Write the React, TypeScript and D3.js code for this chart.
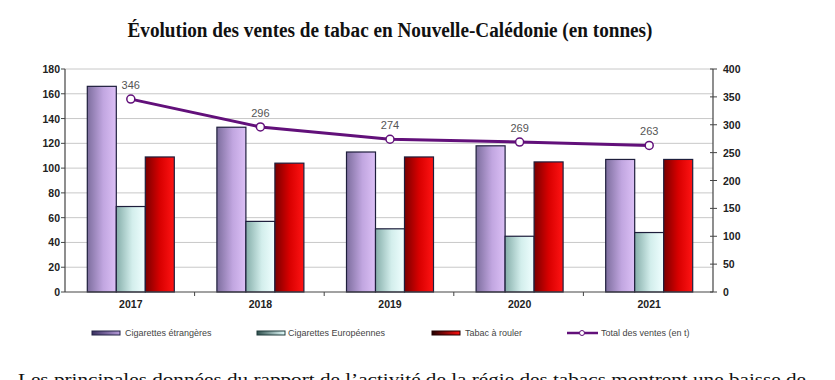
import React from "react";
import * as d3 from "d3";

const years = ["2017", "2018", "2019", "2020", "2021"];
const seriesNames = ["Cigarettes étrangères", "Cigarettes Européennes", "Tabac à rouler"];
const cigEtrangeres = [166, 133, 113, 118, 107];
const cigEuropeennes = [69, 57, 51, 45, 48];
const tabacRouler = [109, 104, 109, 105, 107];
const totalVentes = [346, 296, 274, 269, 263];
const totalName = "Total des ventes (en t)";
const leftTicks = [0, 20, 40, 60, 80, 100, 120, 140, 160, 180];
const rightTicks = [0, 50, 100, 150, 200, 250, 300, 350, 400];

const W = 835, H = 380;
const M = { left: 65, right: 713, top: 69, bottom: 292 };

export default function App() {
  const x0 = d3.scaleBand<string>().domain(years).range([M.left, M.right]).padding(0);
  const groupW = 87;
  const x1 = d3.scaleBand<string>().domain(seriesNames).range([0, groupW]).padding(0);
  const yL = d3.scaleLinear().domain([0, 180]).range([M.bottom, M.top]);
  const yR = d3.scaleLinear().domain([0, 400]).range([M.bottom, M.top]);
  const seriesVals = [cigEtrangeres, cigEuropeennes, tabacRouler];
  const grads = ["gPurple", "gGreen", "gRed"];
  const cx = (y: string) => (x0(y) as number) + x0.bandwidth() / 2 + 1;
  const line = d3.line<number>().x((_, i) => cx(years[i])).y((d) => yR(d));

  const legend = [
    { x: 92, tx: 125, grad: "gPurpleL", stroke: "#222244", label: seriesNames[0] },
    { x: 257, tx: 288, grad: "gGreenL", stroke: "#1f3b3a", label: seriesNames[1] },
    { x: 432, tx: 465, grad: "gRedL", stroke: "#220000", label: seriesNames[2] },
  ];

  return (
    <svg width={W} height={H} style={{ position: "absolute", left: 0, top: 0, background: "#fff" }}>
      <defs>
        <linearGradient id="gPurple" x1="0" x2="1" y1="0" y2="0">
          <stop offset="0" stopColor="#7d6e9e" />
          <stop offset="0.55" stopColor="#c1a6e0" />
          <stop offset="1" stopColor="#dcc0f6" />
        </linearGradient>
        <linearGradient id="gGreen" x1="0" x2="1" y1="0" y2="0">
          <stop offset="0" stopColor="#86aeaa" />
          <stop offset="0.55" stopColor="#d3eeec" />
          <stop offset="1" stopColor="#f0ffff" />
        </linearGradient>
        <linearGradient id="gRed" x1="0" x2="1" y1="0" y2="0">
          <stop offset="0" stopColor="#7a0000" />
          <stop offset="0.5" stopColor="#d80000" />
          <stop offset="1" stopColor="#ff1414" />
        </linearGradient>
        <linearGradient id="gPurpleL" x1="0" x2="1" y1="0" y2="0">
          <stop offset="0" stopColor="#3a3060" />
          <stop offset="1" stopColor="#b59ad8" />
        </linearGradient>
        <linearGradient id="gGreenL" x1="0" x2="1" y1="0" y2="0">
          <stop offset="0" stopColor="#2e4f4c" />
          <stop offset="1" stopColor="#e6ffff" />
        </linearGradient>
        <linearGradient id="gRedL" x1="0" x2="1" y1="0" y2="0">
          <stop offset="0" stopColor="#200000" />
          <stop offset="1" stopColor="#ff1010" />
        </linearGradient>
      </defs>

      <text x={390} y={37} textAnchor="middle" fontFamily="Liberation Serif, Times New Roman, serif"
        fontWeight="bold" fontSize={20} textLength={525} lengthAdjust="spacingAndGlyphs" fill="#111">
        Évolution des ventes de tabac en Nouvelle-Calédonie (en tonnes)
      </text>

      {/* gridlines */}
      {leftTicks.filter((t) => t > 0).map((t) => (
        <line key={t} x1={M.left} x2={M.right} y1={yL(t)} y2={yL(t)} stroke="#c8c8c8" strokeWidth={1} />
      ))}

      {/* bars */}
      {years.map((y, i) => (
        <g key={y} transform={`translate(${(x0(y) as number) + (x0.bandwidth() - groupW) / 2 + 1},0)`}>
          {seriesVals.map((vals, s) => (
            <rect key={s} x={x1(seriesNames[s]) as number} y={yL(vals[i])} width={x1.bandwidth()}
              height={M.bottom - yL(vals[i])} fill={`url(#${grads[s]})`} stroke="#1e1e3c" strokeWidth={1.2} />
          ))}
        </g>
      ))}

      {/* axes */}
      <line x1={M.left} x2={M.left} y1={M.top} y2={M.bottom} stroke="#444" strokeWidth={1.2} />
      <line x1={M.right} x2={M.right} y1={M.top} y2={M.bottom} stroke="#444" strokeWidth={1.2} />
      <line x1={M.left} x2={M.right} y1={M.bottom} y2={M.bottom} stroke="#444" strokeWidth={1.2} />
      {leftTicks.map((t) => (
        <g key={t}>
          <line x1={M.left - 4} x2={M.left} y1={yL(t)} y2={yL(t)} stroke="#444" />
          <text x={M.left - 5} y={yL(t) + 4} textAnchor="end" fontFamily="Liberation Sans, Arial, sans-serif"
            fontWeight="bold" fontSize={10.5} fill="#222">{t}</text>
        </g>
      ))}
      {rightTicks.map((t) => (
        <g key={t}>
          <line x1={M.right - 3} x2={M.right + 4} y1={yR(t)} y2={yR(t)} stroke="#444" />
          <text x={M.right + 10} y={yR(t) + 4} textAnchor="start" fontFamily="Liberation Sans, Arial, sans-serif"
            fontWeight="bold" fontSize={10.5} fill="#222">{t}</text>
        </g>
      ))}
      {years.map((y, i) => (
        <g key={y}>
          {i > 0 && <line x1={x0(y) as number} x2={x0(y) as number} y1={M.bottom} y2={M.bottom + 4} stroke="#444" />}
          <text x={cx(y)} y={M.bottom + 16} textAnchor="middle" fontFamily="Liberation Sans, Arial, sans-serif"
            fontWeight="bold" fontSize={10.5} fill="#222">{y}</text>
        </g>
      ))}

      {/* total line */}
      <path d={line(totalVentes) || ""} fill="none" stroke="#62107a" strokeWidth={3} />
      {totalVentes.map((v, i) => (
        <g key={i}>
          <circle cx={cx(years[i])} cy={yR(v)} r={4} fill="#fff" stroke="#62107a" strokeWidth={1.5} />
          <text x={cx(years[i])} y={yR(v) - 10} textAnchor="middle" fontFamily="Liberation Sans, Arial, sans-serif"
            fontSize={11} fill="#555">{v}</text>
        </g>
      ))}

      {/* legend */}
      {legend.map((l) => (
        <g key={l.label}>
          <rect x={l.x} y={331} width={28} height={4} fill={`url(#${l.grad})`} stroke={l.stroke} strokeWidth={1} />
          <text x={l.tx} y={336} fontFamily="Liberation Sans, Arial, sans-serif" fontSize={9} fill="#444">{l.label}</text>
        </g>
      ))}
      <line x1={567} x2={598} y1={333} y2={333} stroke="#62107a" strokeWidth={2.5} />
      <circle cx={582} cy={333} r={2.5} fill="#fff" stroke="#62107a" strokeWidth={1} />
      <text x={601} y={336} fontFamily="Liberation Sans, Arial, sans-serif" fontSize={9} fill="#444">{totalName}</text>

      <text x={18} y={385} fontFamily="Liberation Serif, Times New Roman, serif" fontSize={17}
        textLength={788} lengthAdjust="spacingAndGlyphs" fill="#111">
        Les principales données du rapport de l’activité de la régie des tabacs montrent une baisse de
      </text>
    </svg>
  );
}
